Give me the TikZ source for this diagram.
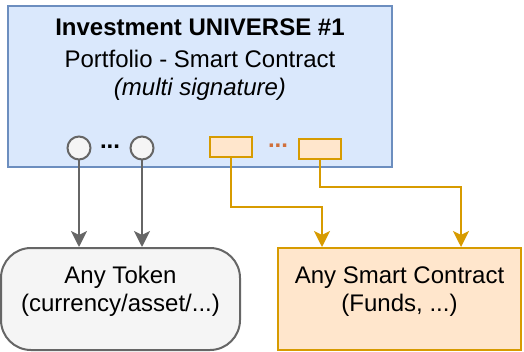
\documentclass[tikz,border=0pt]{standalone}
\usepackage{fontspec}
\setmainfont{Liberation Sans}
\usetikzlibrary{positioning}
\usetikzlibrary{arrows.meta}

\definecolor{azulFondo}{HTML}{DAE8FC}
\definecolor{azulBorde}{HTML}{6C8EBF}
\definecolor{grisFondo}{HTML}{F5F5F5}
\definecolor{grisBorde}{HTML}{666666}
\definecolor{naranjaFondo}{HTML}{FFE6CC}
\definecolor{naranjaBorde}{HTML}{D79B00}
\definecolor{puntos}{HTML}{D0703C}

\begin{document}
\begin{tikzpicture}[x=0.5pt, y=-0.5pt,
    every node/.style={font=\fontsize{12}{14}\selectfont, align=center},
    circulo/.style={draw=grisBorde, fill=grisFondo, circle, line width=1pt, minimum size=11.5pt, inner sep=0pt},
    puerto/.style={draw=naranjaBorde, fill=naranjaFondo, line width=1pt, minimum width=21pt, minimum height=10pt, inner sep=0pt},
    flechaGris/.style={draw=grisBorde, line width=1pt, -{Stealth[length=8pt, width=8pt, inset=2pt]}},
    flechaNaranja/.style={draw=naranjaBorde, line width=1pt, -{Stealth[length=8pt, width=8pt, inset=2pt]}}]
            \useasboundingbox (0,0) rectangle (524,352);

            % Nodos
            \node[draw=azulBorde, fill=azulFondo, line width=1pt, minimum width=192pt, minimum height=80.5pt, inner sep=0pt] (universo) at (200,86.5) {};
            \node (titulo) at (200,27) {\textbf{Investment UNIVERSE \#1}};
            \node (cartera) at (200,75) {Portfolio - Smart Contract\\\textit{(multi signature)}};

            \node[circulo] (c1) at (79,148) {};
            \node[circulo] (c2) at (142,148) {};
            \node[anchor=base] (p1) at (110,149) {\textbf{...}};
            \node[puerto] (r1) at (231,147) {};
            \node[puerto] (r2) at (320,149.5) {};
            \node[anchor=base, text=puntos] (p2) at (278,148) {\textbf{...}};

            \node[draw=grisBorde, fill=grisFondo, line width=1pt, rounded corners=15pt, minimum width=119.5pt, minimum height=51pt] (token) at (120.5,299) {};
            \node (tokenTexto) at (120.5,291.5) {Any Token\\(currency/asset/...)};
            \node[draw=naranjaBorde, fill=naranjaFondo, line width=1pt, minimum width=121.5pt, minimum height=51pt] (contrato) at (399.5,299) {};
            \node (contratoTexto) at (399.5,291.5) {Any Smart Contract\\(Funds, ...)};

            \coordinate (q1) at (322,207);
            \coordinate (q2) at (461,187);

            % Aristas
            \draw[flechaGris] (c1.south) -- (c1.south |- token.north);
            \draw[flechaGris] (c2.south) -- (c2.south |- token.north);
            \draw[flechaNaranja] (r1.south) |- (q1) -- (q1 |- contrato.north);
            \draw[flechaNaranja] (r2.south) |- (q2) -- (q2 |- contrato.north);
          \end{tikzpicture}
\end{document}
